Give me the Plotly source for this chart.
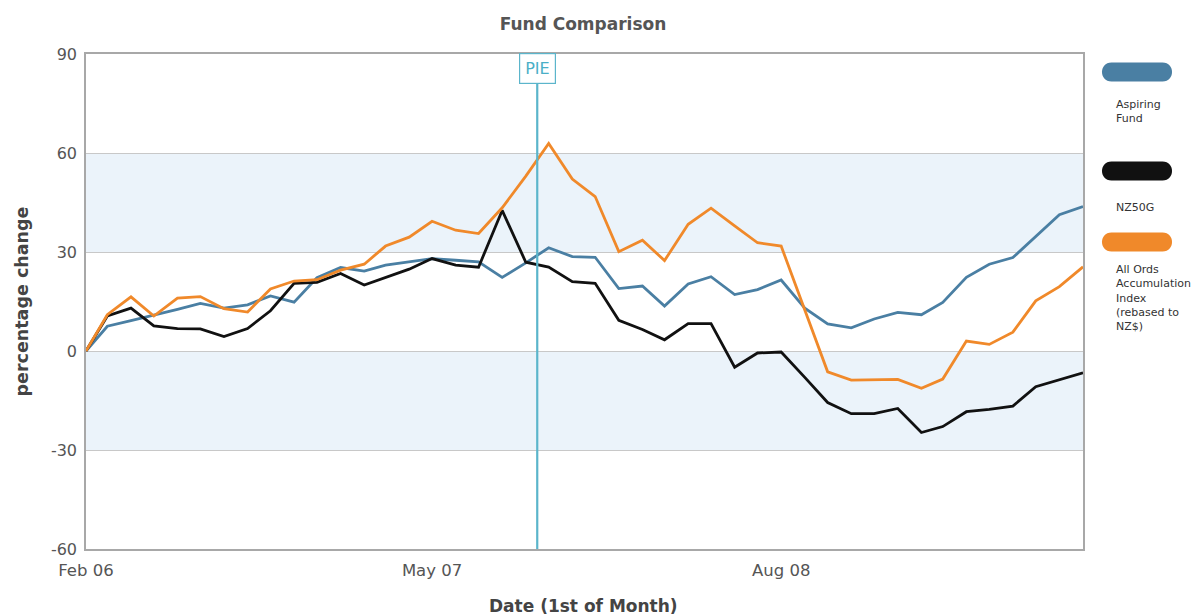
import pandas as pd
import plotly.graph_objects as go

# ---- data ----
dates = pd.date_range("2006-02-01", periods=44, freq="MS")

aspiring_fund = [0, 7.5, 9.2, 10.8, 12.6, 14.4, 13.0, 14.0, 16.7, 14.8,
                 22.2, 25.3, 24.2, 26.0, 27.1, 28.0, 27.5, 27.0, 22.3, 26.7,
                 31.3, 28.6, 28.4, 18.9, 19.7, 13.6, 20.3, 22.5, 17.1, 18.6,
                 21.5, 13.0, 8.2, 7.0, 9.7, 11.7, 11.0, 14.7, 22.3, 26.3,
                 28.3, 34.8, 41.3, 43.8]

nz50g = [0, 10.6, 13.0, 7.6, 6.8, 6.7, 4.4, 6.8, 12.2, 20.5,
         20.8, 23.5, 20.0, 22.2, 24.8, 28.0, 26.0, 25.4, 42.6, 26.9,
         25.4, 21.0, 20.5, 9.3, 6.5, 3.4, 8.3, 8.3, -4.9, -0.6,
         -0.3, -8.0, -15.6, -19.0, -19.0, -17.4, -24.7, -22.9, -18.4, -17.7,
         -16.7, -10.8, -8.6, -6.6]

all_ords = [0, 11.0, 16.4, 10.6, 16.0, 16.5, 12.8, 11.8, 18.8, 21.2,
            21.6, 24.5, 26.3, 31.8, 34.5, 39.3, 36.6, 35.6, 43.4, 53.0,
            62.9, 52.1, 46.8, 30.1, 33.6, 27.4, 38.4, 43.3, 37.9, 32.8,
            31.8, 12.5, -6.3, -8.8, -8.6, -8.6, -11.3, -8.5, 3.0, 2.0,
            5.7, 15.2, 19.5, 25.5]

series_names = ["Aspiring Fund", "NZ50G", "All Ords Accumulation Index (rebased to NZ$)"]
legend_labels = ["Aspiring<br>Fund", "NZ50G", "All Ords<br>Accumulation<br>Index<br>(rebased to<br>NZ$)"]
colors = ["#4A7FA3", "#111111", "#F0892A"]

x_tick_vals = ["2006-02-01", "2007-05-01", "2008-08-01"]
x_tick_text = ["Feb 06", "May 07", "Aug 08"]
y_ticks = [-60, -30, 0, 30, 60, 90]
y_tick_text = ["-60", "-30", "0", "30", "60", "90"]
bands = [(30, 60), (-30, 0)]
pie_date = "2007-09-16"
pie_label = "PIE"

# ---- layout geometry (page body has an 8px margin) ----
OFF = 8
W, H = 1193, 608
PL, PR, PT, PB = 86, 1083, 54, 549          # plot area in window pixels
L, T = PL - OFF, PT - OFF
R = OFF + W - PR
B = OFF + H - PB
pw, ph = PR - PL, PB - PT


def px2paper_x(px):
    return (px - PL) / pw


def px2paper_y(py):
    return (PB - py) / ph


fig = go.Figure()
for name, vals, col in zip(series_names, [aspiring_fund, nz50g, all_ords], colors):
    fig.add_trace(go.Scatter(x=dates, y=vals, mode="lines", name=name,
                             line=dict(color=col, width=2.8), showlegend=False))

shapes = []
for lo, hi in bands:
    shapes.append(dict(type="rect", xref="paper", yref="y", x0=0, x1=1, y0=lo, y1=hi,
                       fillcolor="#EBF3FA", line=dict(width=0), layer="below"))
shapes.append(dict(type="line", xref="x", yref="paper", x0=pie_date, x1=pie_date,
                   y0=0, y1=1.0, line=dict(color="#5BB5CB", width=2.2)))

pill = "M -25.5,-9.5 L 25.5,-9.5 C 38.2,-9.5 38.2,9.5 25.5,9.5 L -25.5,9.5 C -38.2,9.5 -38.2,-9.5 -25.5,-9.5 Z"
sw_y = [72, 171, 242]
txt_y = [96, 199, 261]
annotations = []
for col, sy, lab, ty in zip(colors, sw_y, legend_labels, txt_y):
    shapes.append(dict(type="path", xref="paper", yref="paper", xsizemode="pixel",
                       ysizemode="pixel", xanchor=px2paper_x(1137), yanchor=px2paper_y(sy),
                       path=pill, fillcolor=col, line=dict(width=0)))
    annotations.append(dict(xref="paper", yref="paper", x=px2paper_x(1114), y=px2paper_y(ty),
                            xanchor="left", yanchor="top", align="left", showarrow=False,
                            text=lab, font=dict(family="DejaVu Sans", size=11, color="#333333")))

annotations.append(dict(xref="x", yref="paper", x=pie_date, y=px2paper_y(69),
                        xanchor="center", yanchor="middle", showarrow=False, text=pie_label,
                        font=dict(family="DejaVu Sans", size=16, color="#4AAFC7"),
                        bgcolor="white", bordercolor="#5BB5CB", borderwidth=1.2, borderpad=5))
annotations.append(dict(xref="paper", yref="paper", x=px2paper_x(21), y=0.5,
                        xanchor="center", yanchor="middle", showarrow=False, textangle=-90,
                        text="<b>percentage change</b>",
                        font=dict(family="DejaVu Sans", size=17.5, color="#444444")))
annotations.append(dict(xref="paper", yref="paper", x=px2paper_x(583), y=px2paper_y(606),
                        xanchor="center", yanchor="middle", showarrow=False,
                        text="<b>Date (1st of Month)</b>",
                        font=dict(family="DejaVu Sans", size=17, color="#444444")))

fig.update_layout(
    width=W, height=H,
    margin=dict(l=L, r=R, t=T, b=B, autoexpand=False),
    paper_bgcolor="white", plot_bgcolor="white",
    title=dict(text="<b>Fund Comparison</b>", x=px2paper_x(583), xref="paper",
               xanchor="center", y=1 - (24 - OFF) / H, yref="container", yanchor="middle",
               font=dict(family="DejaVu Sans", size=17, color="#555555")),
    shapes=shapes, annotations=annotations,
    xaxis=dict(type="date", range=["2006-02-01", "2009-09-01"], tickvals=x_tick_vals,
               ticktext=x_tick_text, showgrid=False, showline=True, mirror=True,
               linecolor="#A8A8A8", linewidth=1.5, zeroline=False, ticks="",
               ticklabelstandoff=5,
               tickfont=dict(family="DejaVu Sans", size=16.5, color="#555555")),
    yaxis=dict(range=[-60, 90], tickvals=y_ticks, ticktext=y_tick_text, showgrid=True,
               gridcolor="#C8C8C8", gridwidth=1, showline=True, mirror=True,
               linecolor="#A8A8A8", linewidth=1.5, zeroline=False, ticks="",
               ticklabelstandoff=4,
               tickfont=dict(family="DejaVu Sans", size=16, color="#555555")),
    hovermode=False,
)

fig.write_html("out.html")
